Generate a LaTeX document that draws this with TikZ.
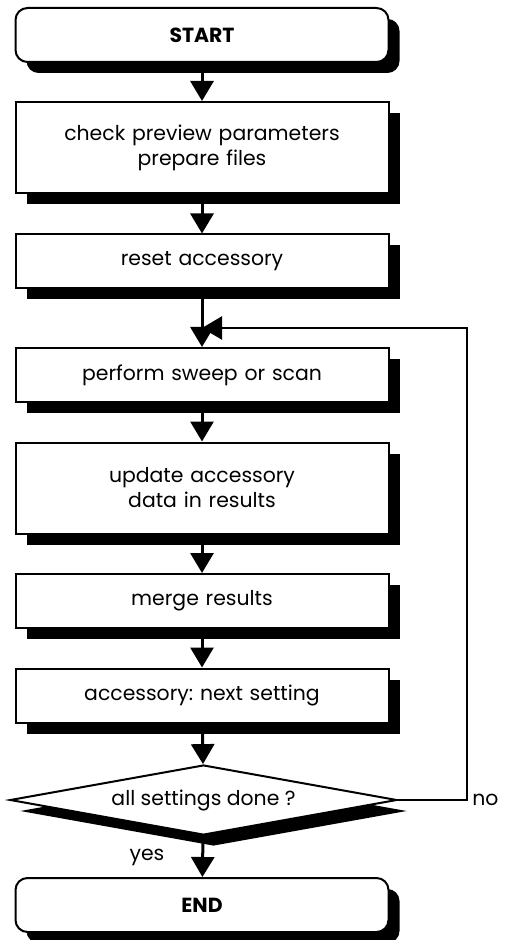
\documentclass[tikz,border=0pt]{standalone}
\usepackage{fontspec}
\setmainfont{Poppins}
\frenchspacing
\usetikzlibrary{
  shapes.geometric, shapes.misc,
  arrows.meta, positioning,
  shadows
}
\tikzset{
  proc/.style={rectangle, draw=black, fill=white, line width=1pt,
    text width=180pt, text centered,
    minimum width=186.5pt, minimum height=27pt, inner sep=2pt,
    font=\fontsize{10.2}{12.5}\selectfont,
    drop shadow={shadow xshift=5.5pt, shadow yshift=-5.5pt,
      fill=black, opacity=1}},
  procT/.style={proc, minimum height=45.5pt},
  term/.style={proc, rounded corners=6pt,
    font=\fontsize{10.2}{12.5}\selectfont\bfseries},
  dec/.style={diamond, draw=black, fill=white, line width=1pt,
    aspect=5.5, minimum width=193.5pt, minimum height=35pt,
    inner sep=0pt, font=\fontsize{10.2}{12.5}\selectfont,
    drop shadow={shadow xshift=5pt, shadow yshift=-5.5pt,
      fill=black, opacity=1}},
  lbl/.style={font=\fontsize{10.2}{12.5}\selectfont, inner sep=1pt},
  arr/.style={-{Triangle[length=10pt, width=11.5pt]}, line width=1.5pt},
  arrL/.style={arr, line width=1.2pt, line join=miter},
}

\begin{document}
\begin{tikzpicture}[x=0.5pt, y=-0.5pt]
  \useasboundingbox (0,0) rectangle (504,940);

  % ---- Terminals and steps ----
  \node[term]  (start)  at (202,35)    {START};
  \node[procT] (prep)   at (202,147.5) {check preview parameters\\prepare files};
  \node[proc]  (reset)  at (202,261.5) {reset accessory};
  \node[proc]  (sweep)  at (202,375)   {perform sweep or scan};
  \node[procT] (update) at (202,488)   {update accessory\\data in results};
  \node[proc]  (merge)  at (202,601)   {merge results};
  \node[proc]  (next)   at (202,695.5) {accessory: next setting};

  % ---- Decision ----
  \node[dec]   (chk)    at (203.5,800) {all settings done ?};

  \node[term]  (stop)   at (202,905)   {END};

  % ---- Loop points ----
  \coordinate (join)  at (202,328);
  \coordinate (loopr) at (467,328);

  % ---- Arrows ----
  \draw[arr] (start)  -- (prep);
  \draw[arr] (prep)   -- (reset);
  \draw[arr] (reset)  -- (sweep);
  \draw[arr] (sweep)  -- (update);
  \draw[arr] (update) -- (merge);
  \draw[arr] (merge)  -- (next);
  \draw[arr] (next)   -- (chk);
  \draw[arr] (chk)    -- (stop);
  \draw[arrL] (chk.east) -| (loopr) -- (join);

  % ---- Labels ----
  \node[lbl, anchor=west] (nolbl)  at (470,800) {no};
  \node[lbl]              (yeslbl) at (147,857) {yes};
\end{tikzpicture}
\end{document}
